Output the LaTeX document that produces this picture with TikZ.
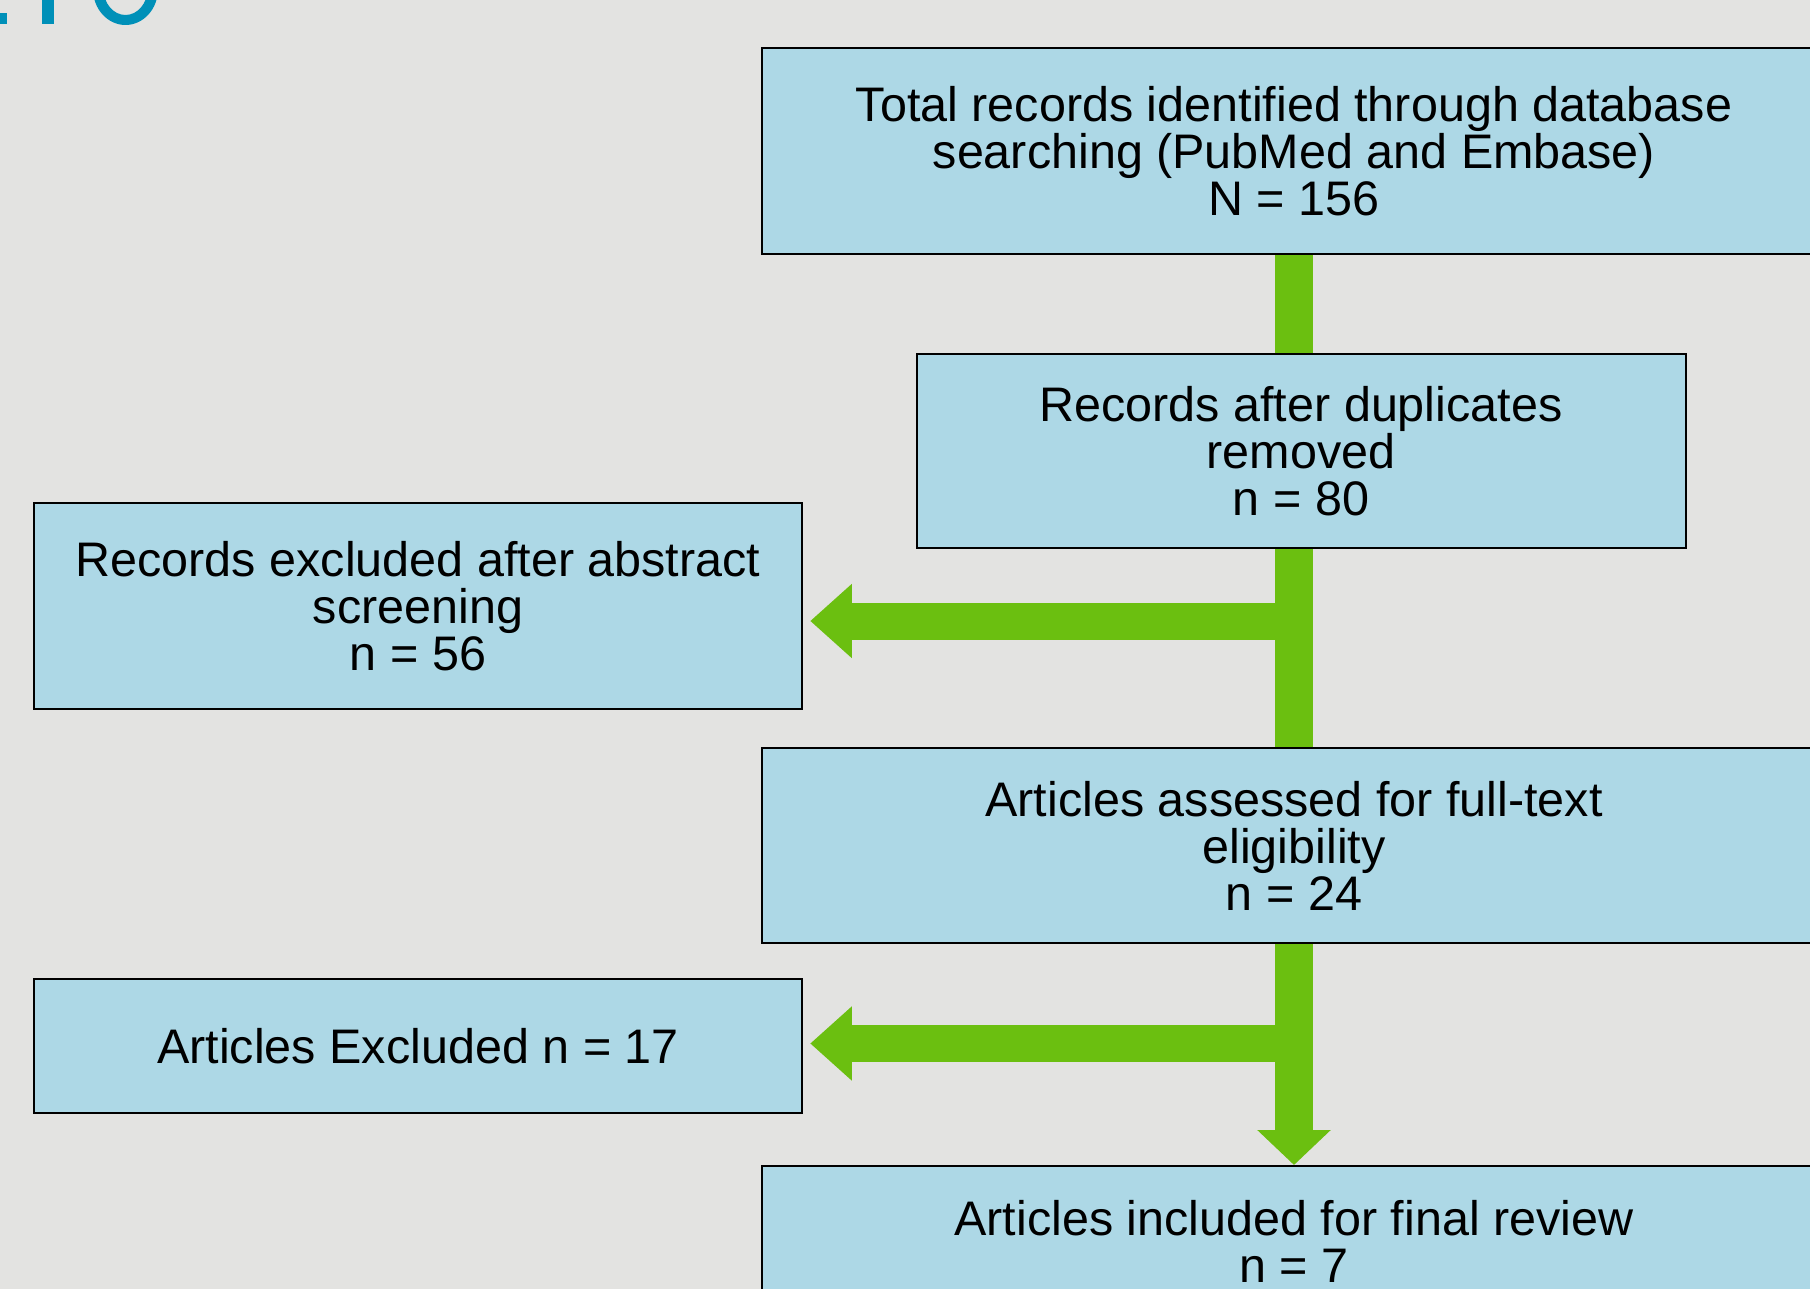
\documentclass[tikz,border=0pt]{standalone}
\usepackage{fontspec}
\setmainfont{Liberation Sans}
\usetikzlibrary{arrows.meta}
\definecolor{bgcol}{HTML}{E3E3E1}
\definecolor{boxfill}{HTML}{ADD8E6}
\definecolor{flowgreen}{HTML}{6BBF10}
\definecolor{titleblue}{HTML}{0090B8}
\begin{document}
\begin{tikzpicture}[x=1pt,y=-1pt,
  flowbox/.style={draw=black,line width=2pt,fill=boxfill,align=center,inner sep=0pt,
    font=\fontsize{48.5}{47}\selectfont},
  gstem/.style={draw=flowgreen,line width=38pt},
  gside/.style={draw=flowgreen,line width=37pt,-{Triangle[width=71.5pt,length=41.5pt]},shorten >=7pt},
  gdown/.style={draw=flowgreen,line width=38pt,-{Triangle[width=71.5pt,length=35pt]}}
]
\path[use as bounding box] (0,0) rectangle (1810,1289);
\clip (0,0) rectangle (1810,1289);
\fill[bgcol] (0,0) rectangle (1810,1289);

% cut-off heading fragment
\fill[titleblue] (0,13) rectangle (6.7,24.5);
\fill[titleblue] (41.7,0) rectangle (54.3,24.5);
\fill[titleblue,even odd rule] (125.5,-11) ellipse [x radius=32.5, y radius=36]
  (125.5,-11) ellipse [x radius=22, y radius=26];

% boxes
\node[flowbox,minimum width=1064pt,minimum height=205.5pt] (top) at (1294,151.25)
  {Total records identified through database\\searching (PubMed and Embase)\\N = 156};
\node[flowbox,minimum width=769pt,minimum height=194pt] (dup) at (1301,451)
  {Records after duplicates\\removed\\n = 80};
\node[flowbox,minimum width=768.5pt,minimum height=206pt] (excl) at (418,606)
  {Records excluded after abstract\\screening\\n = 56};
\node[flowbox,minimum width=1064pt,minimum height=195pt] (full) at (1294,845.5)
  {Articles assessed for full-text\\eligibility\\n = 24};
\node[flowbox,minimum width=768.5pt,minimum height=134pt] (artex) at (418,1046)
  {Articles Excluded n = 17};
\node[flowbox,minimum width=1064pt,minimum height=150pt] (final) at (1294,1241)
  {Articles included for final review\\n = 7};

% connectors
\coordinate (j1) at (1294,621);
\coordinate (j2) at (1294,1043.5);
\draw[gstem] (top.south) -- (top.south |- dup.north);
\draw[gside] (j1) -- (excl.east |- j1);
\draw[gside] (j2) -- (artex.east |- j2);
\draw[gstem] (dup.south -| top.south) -- (full.north);
\draw[gdown] (full.south) -- (final.north);
\end{tikzpicture}
\end{document}
